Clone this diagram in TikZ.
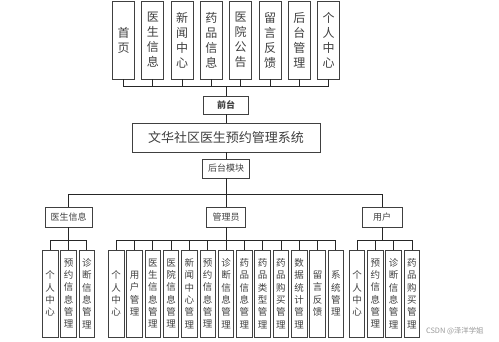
\documentclass[tikz,border=0pt]{standalone}
\usepackage{fontspec}
\setmainfont{Noto Sans CJK SC}
\begin{document}
\begin{tikzpicture}[x=1pt,y=-1pt,
  every node/.style={inner sep=0pt, outer sep=0pt},
  box/.style={draw=black!75, line width=0.8pt, fill=white, text=black!75, align=center},
  topbox/.style={box, minimum width=22pt, minimum height=78pt, font=\fontsize{12}{15}\selectfont},
  leafbox/.style={box, minimum width=15.5pt, minimum height=87pt, font=\fontsize{9.5}{12.3}\selectfont},
  midbox/.style={box, minimum height=20pt, font=\fontsize{9}{11}\selectfont},
  conn/.style={draw=black!85, line width=0.8pt}]
\useasboundingbox (0,0) rectangle (499,341);
% top row
\foreach \i/\t in {0/{首\\页},1/{医\\生\\信\\息},2/{新\\闻\\中\\心},3/{药\\品\\信\\息},4/{医\\院\\公\\告},5/{留\\言\\反\\馈},6/{后\\台\\管\\理},7/{个\\人\\中\\心}}{
  \node[topbox] (t\i) at ({123.5+29.3*\i},40) {\t};
}
\coordinate (bus0) at (226,86);
\node[box, minimum width=45pt, minimum height=18pt, font=\fontsize{9}{11}\selectfont\bfseries] (qt) at (226,105) {前台};
\node[box, minimum width=188pt, minimum height=29pt, font=\fontsize{13}{15}\selectfont] (title) at (226,137.5) {文华社区医生预约管理系统};
\node[midbox, minimum width=47pt, minimum height=19pt] (ht) at (226,168.5) {后台模块};
\coordinate (bus1) at (226,194);
\node[midbox, minimum width=47pt] (ys) at (68.5,217) {医生信息};
\node[midbox, minimum width=39pt] (gl) at (226,217) {管理员};
\node[midbox, minimum width=40pt] (yh) at (382,217) {用户};
\coordinate (bys) at (68.5,240);
\coordinate (bgl) at (226,240);
\coordinate (byh) at (382,240);
% doctor leaves
\foreach \i/\t in {0/{个\\人\\中\\心},1/{预\\约\\信\\息\\管\\理},2/{诊\\断\\信\\息\\管\\理}}{
  \node[leafbox] (d\i) at ({50.2+18.3*\i},293.5) {\t};
}
% admin leaves
\foreach \i/\t in {0/{个\\人\\中\\心},1/{用\\户\\管\\理},2/{医\\生\\信\\息\\管\\理},3/{医\\院\\信\\息\\管\\理},4/{新\\闻\\中\\心\\管\\理},5/{预\\约\\信\\息\\管\\理},6/{诊\\断\\信\\息\\管\\理},7/{药\\品\\信\\息\\管\\理},8/{药\\品\\类\\型\\管\\理},9/{药\\品\\购\\买\\管\\理},10/{数\\据\\统\\计\\管\\理},11/{留\\言\\反\\馈},12/{系\\统\\管\\理}}{
  \node[leafbox] (a\i) at ({116.2+18.3*\i},293.5) {\t};
}
% user leaves
\foreach \i/\t in {0/{个\\人\\中\\心},1/{预\\约\\信\\息\\管\\理},2/{诊\\断\\信\\息\\管\\理},3/{药\\品\\购\\买\\管\\理}}{
  \node[leafbox] (u\i) at ({357+18.3*\i},293.5) {\t};
}
% connectors
\foreach \i in {0,...,7}{ \draw[conn] (t\i.south) |- (bus0); }
\draw[conn] (bus0) -- (qt.north);
\draw[conn] (qt.south) -- (title.north);
\draw[conn] (title.south) -- (ht.north);
\draw[conn] (ht.south) -- (gl.north);
\draw[conn] (ys.north) |- (bus1);
\draw[conn] (yh.north) |- (bus1);
\draw[conn] (ys.south) -- (bys);
\draw[conn] (gl.south) -- (bgl);
\draw[conn] (yh.south) -- (byh);
\foreach \i in {0,...,2}{ \draw[conn] (d\i.north) |- (bys); }
\foreach \i in {0,...,12}{ \draw[conn] (a\i.north) |- (bgl); }
\foreach \i in {0,...,3}{ \draw[conn] (u\i.north) |- (byh); }
\node[text=black!40, font=\fontsize{7.4}{9}\selectfont, anchor=west] (wm) at (426,331) {CSDN @泽洋学姐};
\end{tikzpicture}
\end{document}
